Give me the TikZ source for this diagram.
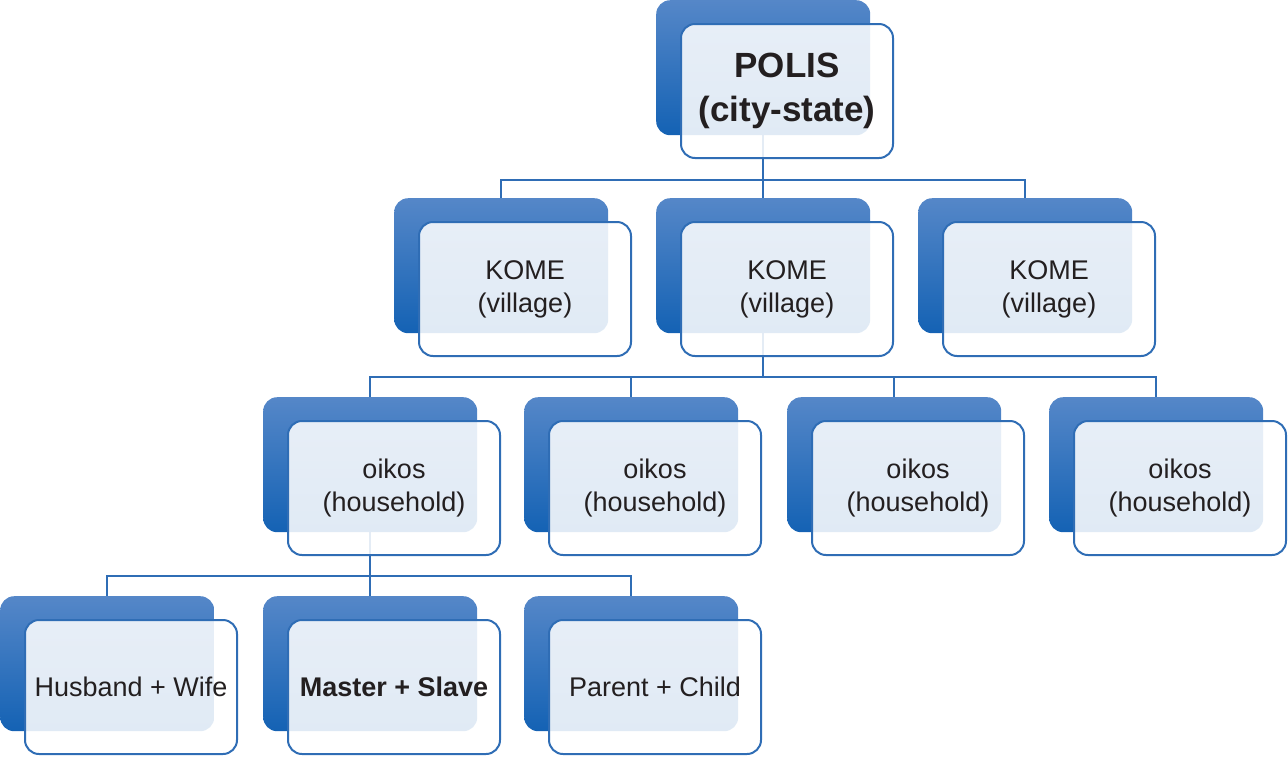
\documentclass[tikz,border=0pt]{standalone}
\usepackage{fontspec}
\setmainfont{Liberation Sans}
\usetikzlibrary{positioning, calc, backgrounds}
\definecolor{boxblue}{HTML}{2F6DB5}
\definecolor{shadetop}{HTML}{5587C8}
\definecolor{shadebot}{HTML}{1462B4}
\definecolor{inktext}{HTML}{231F20}

\begin{document}
\begin{tikzpicture}[x=1pt, y=-1pt,
                back box/.style={rounded corners=14pt, minimum width=214pt, minimum height=135pt, inner sep=0pt,
                                 top color=shadetop, bottom color=shadebot, anchor=north west},
                front box/.style={draw=boxblue, line width=2pt, rounded corners=14pt, fill=white, fill opacity=0.87,
                                  text opacity=1, text=inktext, minimum width=212pt, minimum height=134pt, anchor=north west,
                                  align=center, font=\fontsize{27}{33}\selectfont},
                conn/.style={draw=boxblue, line width=2pt}]

                \useasboundingbox (0,0) rectangle (1288,756);

                % City-state
                \node[back box] (polisback) at (656,0) {};
                \node[front box, font=\fontsize{35}{44}\selectfont\bfseries] (polis) at ([shift={(24,23)}]polisback.north west) {POLIS\\(city-state)};

                % Villages
                \node[back box] (komeAback) at (394,198) {};
                \node[front box] (komeA) at ([shift={(24,23)}]komeAback.north west) {KOME\\(village)};
                \node[back box] (komeBback) at (656,198) {};
                \node[front box] (komeB) at ([shift={(24,23)}]komeBback.north west) {KOME\\(village)};
                \node[back box] (komeCback) at (918,198) {};
                \node[front box] (komeC) at ([shift={(24,23)}]komeCback.north west) {KOME\\(village)};

                % Households
                \node[back box] (oikosAback) at (263,397) {};
                \node[front box] (oikosA) at ([shift={(24,23)}]oikosAback.north west) {oikos\\(household)};
                \node[back box] (oikosBback) at (524,397) {};
                \node[front box] (oikosB) at ([shift={(24,23)}]oikosBback.north west) {oikos\\(household)};
                \node[back box] (oikosCback) at (787,397) {};
                \node[front box] (oikosC) at ([shift={(24,23)}]oikosCback.north west) {oikos\\(household)};
                \node[back box] (oikosDback) at (1049,397) {};
                \node[front box] (oikosD) at ([shift={(24,23)}]oikosDback.north west) {oikos\\(household)};

                % Relations
                \node[back box] (husbandback) at (0,596) {};
                \node[front box] (husband) at ([shift={(24,23)}]husbandback.north west) {Husband + Wife};
                \node[back box] (masterback) at (263,596) {};
                \node[front box, font=\fontsize{27}{33}\selectfont\bfseries] (master) at ([shift={(24,23)}]masterback.north west) {Master + Slave};
                \node[back box] (parentback) at (524,596) {};
                \node[front box] (parent) at ([shift={(24,23)}]parentback.north west) {Parent + Child};

                % Connectors
                \begin{scope}[on background layer]
                    \draw[conn] (polisback.center) -- (komeBback.north);
                    \draw[conn] (komeAback.north) -- ++(0,-18) -| (komeCback.north);

                    \draw[conn] (oikosAback.north) -- ++(0,-20) coordinate (bar) -| (oikosDback.north);
                    \draw[conn] (komeBback.center) -- (komeBback.center |- bar);
                    \draw[conn] (oikosBback.north) -- (oikosBback.north |- bar);
                    \draw[conn] (oikosCback.north) -- (oikosCback.north |- bar);

                    \draw[conn] (oikosAback.center) -- (masterback.north);
                    \draw[conn] (husbandback.north) -- ++(0,-20) -| (parentback.north);
                \end{scope}
            \end{tikzpicture}
\end{document}
